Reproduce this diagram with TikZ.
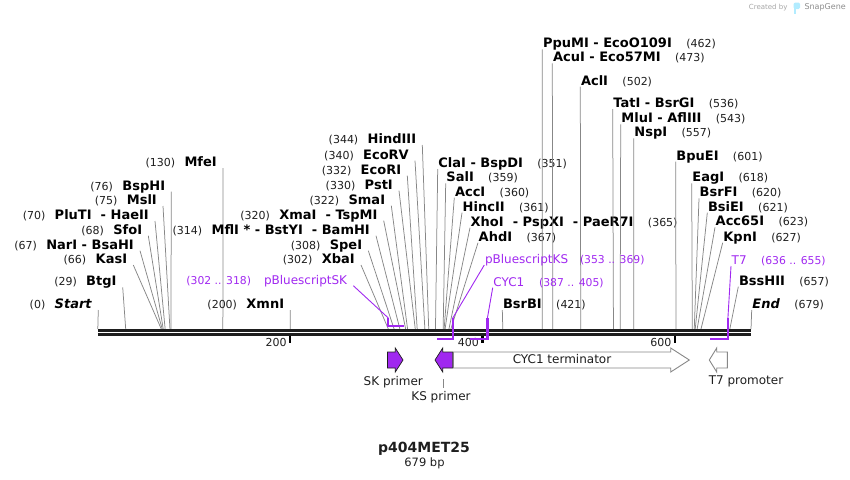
\documentclass[tikz,border=0pt]{standalone}
\usepackage{fontspec}
\setmainfont{DejaVu Sans}
\usepackage{tikz}
\usetikzlibrary{positioning}
\definecolor{feat}{RGB}{160,40,240}
\definecolor{cutgray}{RGB}{135,135,135}
\definecolor{bb}{RGB}{30,30,30}

\begin{document}
\begin{tikzpicture}[x=1pt,y=-1pt,
	enz/.style={font=\fontsize{13}{15}\selectfont\bfseries,text height=9.5pt,text depth=0pt,inner ysep=1.5pt},
	lblL/.style={anchor=south east,inner xsep=6pt},
	lblR/.style={anchor=south west,inner xsep=0.5pt},
	num/.style={font=\fontsize{11}{13}\selectfont,text=bb,text height=9.5pt,text depth=0pt,inner ysep=1.5pt,inner xsep=0pt},
	ftxt/.style={font=\fontsize{12}{14}\selectfont,text=feat,text height=9.5pt,text depth=0pt,inner ysep=1.5pt},
	fnum/.style={font=\fontsize{10.8}{13}\selectfont,text=feat,text height=9.5pt,text depth=0pt,inner ysep=1.5pt,inner xsep=0pt},
	flab/.style={font=\fontsize{12}{14}\selectfont,text=bb},
	cut/.style={cutgray,line width=0.75pt},
	featline/.style={feat,line width=0.9pt},
	featbar/.style={feat,line width=2.2pt},
	primer/.style={fill=feat,draw=bb,line width=0.7pt},
	region/.style={fill=white,draw=cutgray,line width=0.9pt}]
	\useasboundingbox (0,0) rectangle (850,479);
	% sites labelled on the left
	\foreach \p/\lx/\ly/\nm in {0/98.3/310/\textit{Start},29/122.7/287.3/BtgI,66/133.3/265/KasI,
		67/140/250.7/NarI - BsaHI,68/148.3/235.7/SfoI,70/155/221/PluTI\ \ - HaeII,75/163/206/MslI,
		76/171.3/191.7/BspHI,130/223/168/MfeI,200/290.3/310/XmnI,302/361/265/XbaI,308/368.3/250.7/SpeI,
		314/376/235.7/MflI * - BstYI\ \ - BamHI,320/383.7/220.7/XmaI\ \ - TspMI,322/391.3/205.7/SmaI,
		330/399/190.7/PstI,332/407.3/175.7/EcoRI,340/415/160.7/EcoRV,344/422.3/145/HindIII}{
		\coordinate (s\p) at ({97.8+0.962*\p},329);
		\node[enz,lblL] (e\p) at (\lx,\ly) {\nm};
		\node[num,left=3pt of e\p] (n\p) {(\p)};
		\draw[cut] (e\p.south east) -- (s\p);}
	% sites labelled on the right
	\foreach \p/\lx/\ly/\nm in {351/437.7/169/ClaI - BspDI,359/445.7/183.3/SalI,360/454.3/197.7/AccI,
		361/462/212.7/HincII,365/470/227.7/XhoI\ \ - PspXI\ \ - PaeR7I,367/478/242.7/AhdI,
		421/502.3/310/BsrBI,462/542.3/49.3/PpuMI - EcoO109I,473/552.3/63.3/AcuI - Eco57MI,
		502/580.3/86.7/AclI,536/612.7/109/TatI - BsrGI,543/620.7/124.3/MluI - AflIII,
		557/633.7/138.3/NspI,601/675.7/161.7/BpuEI,618/691.7/183.3/EagI,620/699/198.3/BsrFI,
		621/707.3/212.7/BsiEI,623/715/227.3/Acc65I,627/722.7/242.7/KpnI,657/738.3/286.7/BssHII,
		679/751.7/310/\textit{End}}{
		\coordinate (s\p) at ({97.8+0.962*\p},329);
		\node[enz,lblR] (e\p) at (\lx,\ly) {\nm};
		\node[num,right=13.5pt of e\p] (n\p) {(\p)};
		\draw[cut] (e\p.south west) -- (s\p);}
	% backbone and ruler
	\draw[bb,line width=2.4pt] ([yshift=-1.5pt]s0) -- ([yshift=-1.5pt]s679);
	\draw[bb,line width=2.4pt] ([yshift=-5.5pt]s0) -- ([yshift=-5.5pt]s679);
	\foreach \t in {200,400,600}{
		\coordinate (t\t) at ({97.8+0.962*\t},335.7);
		\draw[black,line width=2.4pt] (t\t) -- ++(0,7.6);
		\node[num,anchor=north east,inner xsep=3.5pt] (tl\t) at (t\t) {\t};}
	% primer sites
	\node[ftxt,lblL] (fsk) at (353.3,285.7) {pBluescriptSK};
	\node[fnum,left=6.6pt of fsk] (fskn) {(302 .. 318)};
	\coordinate (sk1) at ({97.8+0.962*302},318);
	\coordinate (sk2) at ({97.8+0.962*318},326);
	\draw[featline] (fsk.south east) -- (sk1);
	\draw[featbar] (sk1) |- (sk2);
	\node[ftxt,lblR] (fks) at (484.3,265) {pBluescriptKS};
	\node[fnum,right=11pt of fks] (fksn) {(353 .. 369)};
	\coordinate (ks1) at ({97.8+0.962*369},318);
	\coordinate (ks2) at ({97.8+0.962*353},339);
	\draw[featline] (fks.south west) -- (ks1);
	\draw[featbar] (ks1) |- (ks2);
	\node[ftxt,lblR] (fcy) at (492.7,287.7) {CYC1};
	\node[fnum,right=14pt of fcy] (fcyn) {(387 .. 405)};
	\coordinate (cy1) at ({97.8+0.962*405},318);
	\coordinate (cy2) at ({97.8+0.962*387},339);
	\draw[featline] (fcy.south west) -- (cy1);
	\draw[featbar] (cy1) |- (cy2);
	\node[ftxt,lblR] (ft7) at (731,266) {T7};
	\node[fnum,right=13.5pt of ft7] (ft7n) {(636 .. 655)};
	\coordinate (t71) at ({97.8+0.962*655},318);
	\coordinate (t72) at ({97.8+0.962*636},339);
	\draw[featline] (ft7.south west) -- (t71);
	\draw[featbar] (t71) |- (t72);
	% features
	\draw[primer] (387.5,352) -- (395.3,352) -- (395.3,348) -- (403,360) -- (395.3,372) -- (395.3,368) -- (387.5,368) -- cycle;
	\draw[primer] (452.7,352) -- (442.7,352) -- (442.7,348) -- (435,360) -- (442.7,372) -- (442.7,368) -- (452.7,368) -- cycle;
	\draw[region] (453.3,352) -- (670.7,352) -- (670.7,348) -- (689.3,360) -- (670.7,372) -- (670.7,368) -- (453.3,368) -- cycle;
	\draw[region] (727.3,352) -- (716.7,352) -- (716.7,348) -- (709.3,360) -- (716.7,372) -- (716.7,368) -- (727.3,368) -- cycle;
	\node[flab] (cyl) at (562,359.5) {CYC1 terminator};
	\node[flab] (skl) at (393.3,381.7) {SK primer};
	\node[flab] (ksl) at (441,397.3) {KS primer};
	\node[flab] (t7l) at (746,381.7) {T7 promoter};
	\coordinate (ksc) at (443.3,379);
	\draw[cut] (ksc) -- (ksc |- ksl.north);
	% title
	\node[font=\fontsize{14}{16}\selectfont\bfseries,text=bb] (title) at (424,448.3) {p404MET25};
	\node[font=\fontsize{11.5}{13}\selectfont,text=bb] (len) at (424.5,463.3) {679 bp};
	% watermark
	\node[anchor=east,font=\fontsize{7}{8}\selectfont,text=black!35] (cby) at (791,7.5) {Created by};
	\fill[blue!25!cyan!30] (793.5,2.5) rectangle (796.3,13.5);
	\fill[blue!25!cyan!30,rounded corners=1.5pt] (793.5,2.5) rectangle (800,9);
	\node[anchor=west,font=\fontsize{8}{9}\selectfont,text=black!45] (sg) at (801,7.5) {SnapGene};
\end{tikzpicture}
\end{document}
